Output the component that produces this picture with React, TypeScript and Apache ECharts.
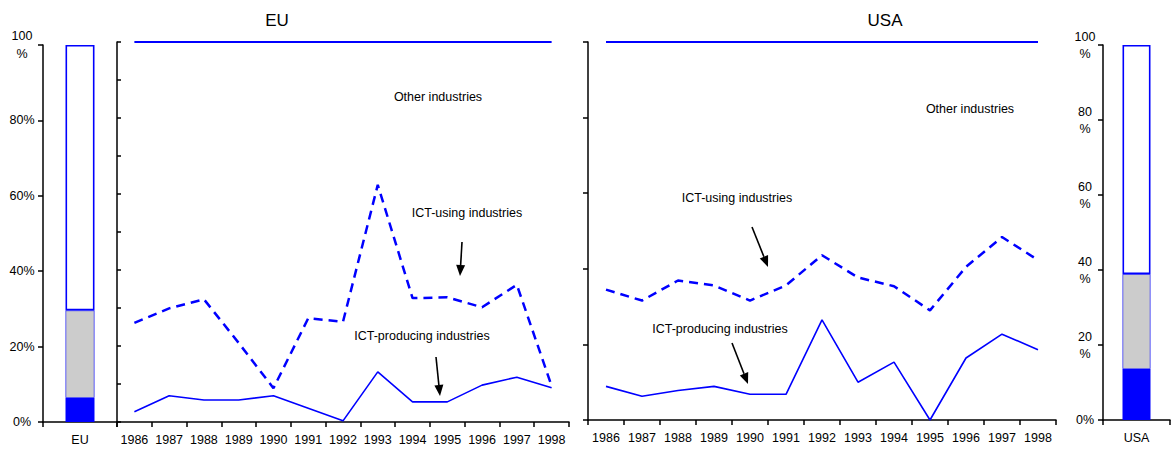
import React, { useEffect, useRef } from "react";
import * as echarts from "echarts";

const years = ["1986", "1987", "1988", "1989", "1990", "1991", "1992", "1993", "1994", "1995", "1996", "1997", "1998"];

const euProducing = [2.7, 6.9, 5.8, 5.8, 6.9, 3.6, 0.3, 13.2, 5.3, 5.3, 9.7, 11.8, 9.0];
const euUsing = [26.1, 29.9, 32.3, 20.8, 8.9, 27.3, 26.4, 62.4, 32.6, 32.8, 30.2, 36.1, 9.5];
const euTotal = [100, 100, 100, 100, 100, 100, 100, 100, 100, 100, 100, 100, 100];

const usProducing = [8.9, 6.3, 7.8, 8.9, 6.8, 6.8, 26.5, 10.0, 15.3, 0, 16.4, 22.7, 18.6];
const usUsing = [34.5, 31.6, 36.9, 35.6, 31.6, 35.6, 43.6, 37.7, 35.4, 29.0, 40.5, 48.4, 42.3];
const usTotal = [100, 100, 100, 100, 100, 100, 100, 100, 100, 100, 100, 100, 100];

const euBarCategory = ["EU"];
const euBarProducing = [6.4];
const euBarUsing = [23.2];
const euBarOther = [70.4];

const usBarCategory = ["USA"];
const usBarProducing = [13.6];
const usBarUsing = [25.3];
const usBarOther = [61.1];

const euBarTickLabels = ["0%", "20%", "40%", "60%", "80%", "100\n%"];
const usBarTickLabels = ["0%", "20\n%", "40\n%", "60\n%", "80\n%", "100\n%"];

const FONT = "'Liberation Sans', Arial, sans-serif";
const BLUE = "#0000ff";
const GRAY = "#cccccc";

function arrow(x1: number, y1: number, x2: number, y2: number) {
  const dx = x2 - x1;
  const dy = y2 - y1;
  const L = Math.hypot(dx, dy);
  const ux = dx / L;
  const uy = dy / L;
  const hl = 11;
  const hw = 4.5;
  const bx = x2 - ux * hl;
  const by = y2 - uy * hl;
  return [
    { type: "line", shape: { x1, y1, x2: bx, y2: by }, style: { stroke: "#000", lineWidth: 1.6 } },
    {
      type: "polygon",
      shape: { points: [[x2, y2], [bx - uy * hw, by + ux * hw], [bx + uy * hw, by - ux * hw]] },
      style: { fill: "#000" },
    },
  ];
}

function label(text: string, x: number, y: number, size = 12.5) {
  return {
    type: "text",
    style: {
      text,
      x,
      y,
      fill: "#000",
      font: `${size}px ${FONT}`,
      align: "center",
      verticalAlign: "middle",
      textAlign: "center",
      textVerticalAlign: "middle",
    },
  };
}

const axisLine = { show: true, lineStyle: { color: "#000", width: 1.5 } };

export default function App() {
  const ref = useRef<HTMLDivElement>(null);
  useEffect(() => {
    if (!ref.current) return;
    const chart = echarts.init(ref.current, null, { renderer: "svg" });
    const catX = (idx: number, data: string[]) => ({
      type: "category",
      gridIndex: idx,
      data,
      boundaryGap: true,
      axisLine,
      axisTick: { show: true, length: 5, lineStyle: { color: "#000", width: 1.5 } },
      axisLabel: { color: "#000", fontSize: 12.5, fontFamily: FONT, margin: 11, interval: 0 },
      splitLine: { show: false },
    });
    const option: any = {
      animation: false,
      backgroundColor: "#fff",
      grid: [
        { left: 43, top: 45, width: 74, height: 377, outerBoundsMode: "none", containLabel: false },
        { left: 117, top: 42, width: 452, height: 380, outerBoundsMode: "none", containLabel: false },
        { left: 588, top: 42, width: 468, height: 378, outerBoundsMode: "none", containLabel: false },
        { left: 1103, top: 45, width: 67, height: 375, outerBoundsMode: "none", containLabel: false },
      ],
      xAxis: [catX(0, euBarCategory), catX(1, years), catX(2, years), catX(3, usBarCategory)],
      yAxis: [
        {
          type: "value", gridIndex: 0, min: 0, max: 100, interval: 20,
          axisLine, splitLine: { show: false },
          axisTick: { show: true, length: 5, lineStyle: { color: "#000", width: 1.5 } },
          axisLabel: {
            color: "#000", fontSize: 12.5, fontFamily: FONT, margin: 21, align: "center", lineHeight: 18,
            formatter: (v: number) => euBarTickLabels[Math.round(v / 20)],
          },
        },
        {
          type: "value", gridIndex: 1, min: 0, max: 100, interval: 10,
          axisLine, splitLine: { show: false },
          axisTick: { show: true, inside: true, length: 4, lineStyle: { color: "#000", width: 1.5 } },
          axisLabel: { show: false },
        },
        {
          type: "value", gridIndex: 2, min: 0, max: 100, interval: 20,
          axisLine, splitLine: { show: false },
          axisTick: { show: true, length: 5, lineStyle: { color: "#000", width: 1.5 } },
          axisLabel: { show: false },
        },
        {
          type: "value", gridIndex: 3, min: 0, max: 100, interval: 20,
          axisLine, splitLine: { show: false },
          axisTick: { show: true, length: 5, lineStyle: { color: "#000", width: 1.5 } },
          axisLabel: {
            color: "#000", fontSize: 12.5, fontFamily: FONT, margin: 18, align: "center", lineHeight: 17,
            formatter: (v: number) => usBarTickLabels[Math.round(v / 20)],
          },
        },
      ],
      series: [
        { type: "bar", xAxisIndex: 0, yAxisIndex: 0, stack: "eu", barWidth: 29, data: euBarProducing, itemStyle: { color: BLUE } },
        { type: "bar", xAxisIndex: 0, yAxisIndex: 0, stack: "eu", barWidth: 29, data: euBarUsing, itemStyle: { color: GRAY, borderColor: BLUE, borderWidth: 0.6 } },
        { type: "bar", xAxisIndex: 0, yAxisIndex: 0, stack: "eu", barWidth: 29, data: euBarOther, itemStyle: { color: "#fff", borderColor: BLUE, borderWidth: 1.6 } },
        { type: "bar", xAxisIndex: 3, yAxisIndex: 3, stack: "us", barWidth: 28, data: usBarProducing, itemStyle: { color: BLUE } },
        { type: "bar", xAxisIndex: 3, yAxisIndex: 3, stack: "us", barWidth: 28, data: usBarUsing, itemStyle: { color: GRAY, borderColor: BLUE, borderWidth: 0.6 } },
        { type: "bar", xAxisIndex: 3, yAxisIndex: 3, stack: "us", barWidth: 28, data: usBarOther, itemStyle: { color: "#fff", borderColor: BLUE, borderWidth: 1.6 } },
        { type: "line", xAxisIndex: 1, yAxisIndex: 1, data: euTotal, symbol: "none", lineStyle: { color: BLUE, width: 2 } },
        { type: "line", xAxisIndex: 1, yAxisIndex: 1, data: euUsing, symbol: "none", lineStyle: { color: BLUE, width: 2.5, type: [9, 6] } },
        { type: "line", xAxisIndex: 1, yAxisIndex: 1, data: euProducing, symbol: "none", lineStyle: { color: BLUE, width: 1.6 } },
        { type: "line", xAxisIndex: 2, yAxisIndex: 2, data: usTotal, symbol: "none", lineStyle: { color: BLUE, width: 2 } },
        { type: "line", xAxisIndex: 2, yAxisIndex: 2, data: usUsing, symbol: "none", lineStyle: { color: BLUE, width: 2.5, type: [9, 6] } },
        { type: "line", xAxisIndex: 2, yAxisIndex: 2, data: usProducing, symbol: "none", lineStyle: { color: BLUE, width: 1.6 } },
      ],
      graphic: [
        label("EU", 277, 20, 17),
        label("USA", 885, 20, 17),
        label("Other industries", 438, 97),
        label("ICT-using industries", 467, 213),
        label("ICT-producing industries", 422, 336),
        label("Other industries", 970, 109),
        label("ICT-using industries", 737, 198),
        label("ICT-producing industries", 720, 329),
        ...arrow(462, 242, 460, 276),
        ...arrow(436, 357, 440, 396),
        ...arrow(752, 227, 768, 267),
        ...arrow(732, 343, 748, 384),
      ],
    };
    chart.setOption(option);
    return () => chart.dispose();
  }, []);
  return <div ref={ref} style={{ position: "absolute", left: 0, top: 0, width: 1171, height: 451 }} />;
}
